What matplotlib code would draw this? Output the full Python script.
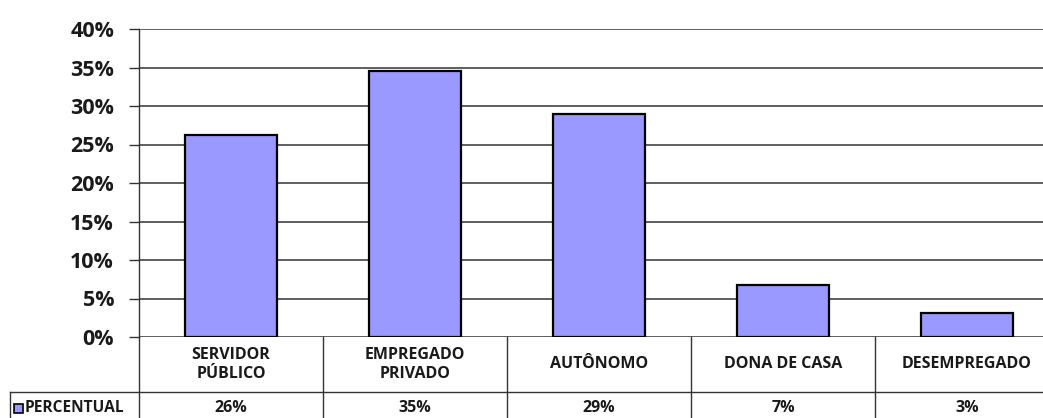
import matplotlib
matplotlib.use("Agg")
import matplotlib.pyplot as plt
from matplotlib.lines import Line2D
from matplotlib.patches import Rectangle
import matplotlib.transforms as mtransforms

categories = ["SERVIDOR\nPÚBLICO", "EMPREGADO\nPRIVADO", "AUTÔNOMO", "DONA DE CASA", "DESEMPREGADO"]
values = [26.2, 34.6, 28.9, 6.75, 3.1]
series_name = "PERCENTUAL"
yticks = [0, 5, 10, 15, 20, 25, 30, 35, 40]
ytick_labels = ["0%", "5%", "10%", "15%", "20%", "25%", "30%", "35%", "40%"]

FONT = "Open Sans"
BAR = "#9999FF"
LINE = "#333333"
TXT = "#1a1a1a"

W, H = 1043, 418
fig = plt.figure(figsize=(W / 100, H / 100), dpi=100)
x0_px, x1_px = 139.0, 1059.0
ax_left = x0_px / W
ax_bottom = (H - 337) / H
ax_top = (H - 29) / H
ax = fig.add_axes([ax_left, ax_bottom, (x1_px - x0_px) / W, ax_top - ax_bottom])

n = len(categories)
xs = list(range(n))
ax.bar(xs, values, width=0.5, color=BAR, edgecolor="black", linewidth=1.6, zorder=3)
ax.set_xlim(-0.5, n - 0.5)
ax.set_ylim(0, 40)
ax.set_yticks(yticks)
ax.set_yticklabels(ytick_labels, fontfamily=FONT, fontweight="bold", fontsize=15.5, color=TXT)
ax.tick_params(axis="y", direction="out", length=7, width=1, color=LINE, pad=11)
ax.set_xticks([])
ax.yaxis.grid(True, color=LINE, linewidth=1.1, zorder=0)
ax.set_axisbelow(True)
for s in ["top", "right", "bottom"]:
    ax.spines[s].set_visible(False)
ax.spines["left"].set_color(LINE)
ax.spines["left"].set_linewidth(1)

axh_px = 337 - 29
axw_px = x1_px - x0_px
row1 = -(392 - 337) / axh_px
row2 = -(424 - 337) / axh_px
val_y = -(408 - 337) / axh_px
trans = mtransforms.blended_transform_factory(ax.transData, ax.transAxes)

# left spine continues down through the table
ax.add_line(Line2D([0, 0], [0, row2], transform=ax.transAxes, color=LINE, lw=1, clip_on=False))
# vertical column separators
for i in range(1, n):
    ax.add_line(Line2D([i - 0.5, i - 0.5], [0, row2], transform=trans, color=LINE, lw=1, clip_on=False))
# horizontal separator between rows, incl. legend cell
left_cell_x = (10 - x0_px) / axw_px
ax.add_line(Line2D([left_cell_x, 1], [row1, row1], transform=ax.transAxes, color=LINE, lw=1, clip_on=False))
ax.add_line(Line2D([left_cell_x, left_cell_x], [row1, row2], transform=ax.transAxes, color=LINE, lw=1, clip_on=False))

# category labels and values
for i, (c, v) in enumerate(zip(categories, values)):
    ax.text(i, row1 / 2, c, transform=trans, ha="center", va="center", fontfamily=FONT,
            fontweight="bold", fontsize=11.5, color=TXT, linespacing=1.3, clip_on=False)
    ax.text(i, val_y, f"{int(v + 0.5)}%", transform=trans, ha="center", va="center",
            fontfamily=FONT, fontweight="bold", fontsize=11.5, color=TXT, clip_on=False)

# legend key in left cell
sq_x = (14 - x0_px) / axw_px
sq_w = 9 / axw_px
sq_h = 9 / axh_px
sq_y = val_y - sq_h / 2
ax.add_patch(Rectangle((sq_x, sq_y), sq_w, sq_h, transform=ax.transAxes, facecolor=BAR,
                       edgecolor="black", lw=1.2, clip_on=False))
ax.text((25 - x0_px) / axw_px, val_y, series_name, transform=ax.transAxes,
        ha="left", va="center", fontfamily=FONT, fontweight="bold", fontsize=11.2, color=TXT,
        clip_on=False)

fig.savefig("out.png", dpi=100)
